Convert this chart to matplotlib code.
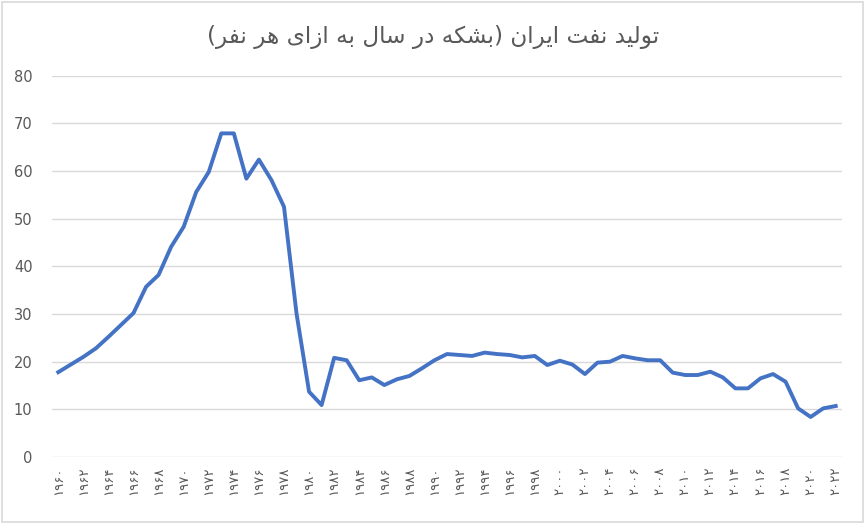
import numpy as np
import matplotlib.pyplot as plt
from matplotlib.patches import Rectangle


# data (barrels per person per year)
years = list(range(1960, 2023))
oil_per_capita = [
    17.8, 19.4, 21.0, 22.8, 25.2, 27.7, 30.2, 35.7, 38.2, 44.1,
    48.3, 55.6, 59.8, 67.9, 67.9, 58.4, 62.4, 58.1, 52.5, 30.1,
    13.7, 10.9, 20.8, 20.3, 16.1, 16.7, 15.1, 16.3, 17.0, 18.6,
    20.3, 21.6, 21.4, 21.2, 21.9, 21.6, 21.4, 20.9, 21.2, 19.3,
    20.2, 19.4, 17.4, 19.8, 20.0, 21.2, 20.7, 20.3, 20.3, 17.7,
    17.2, 17.2, 17.9, 16.7, 14.4, 14.4, 16.5, 17.4, 15.8, 10.2,
    8.4, 10.2, 10.7,
]
title_words = ['تولید', 'نفت', 'ایران', 'بشکه', 'در', 'سال', 'به', 'ازای', 'هر', 'نفر']


# matplotlib does no arabic shaping / bidi, so do a small one by hand
# forms: (isolated, final, initial, medial)
FORMS = {
    'ا': ('\uFE8D', '\uFE8E', None, None),
    'ب': ('\uFE8F', '\uFE90', '\uFE91', '\uFE92'),
    'ت': ('\uFE95', '\uFE96', '\uFE97', '\uFE98'),
    'د': ('\uFEA9', '\uFEAA', None, None),
    'ر': ('\uFEAD', '\uFEAE', None, None),
    'ز': ('\uFEAF', '\uFEB0', None, None),
    'س': ('\uFEB1', '\uFEB2', '\uFEB3', '\uFEB4'),
    'ش': ('\uFEB5', '\uFEB6', '\uFEB7', '\uFEB8'),
    'ف': ('\uFED1', '\uFED2', '\uFED3', '\uFED4'),
    'ل': ('\uFEDD', '\uFEDE', '\uFEDF', '\uFEE0'),
    'ن': ('\uFEE5', '\uFEE6', '\uFEE7', '\uFEE8'),
    'ه': ('\uFEE9', '\uFEEA', '\uFEEB', '\uFEEC'),
    'و': ('\uFEED', '\uFEEE', None, None),
    'ی': ('\uFBFC', '\uFBFD', '\uFBFE', '\uFBFF'),
    'ک': ('\uFB8E', '\uFB8F', '\uFB90', '\uFB91'),
}


def shape(word):
    out = []
    for i, ch in enumerate(word):
        f = FORMS[ch]
        prev_joins = i > 0 and FORMS[word[i - 1]][2] is not None
        next_joins = f[2] is not None and i < len(word) - 1
        if prev_joins and next_joins:
            out.append(f[3])
        elif prev_joins:
            out.append(f[1])
        elif next_joins:
            out.append(f[2])
        else:
            out.append(f[0])
    return ''.join(reversed(out))


fa_digits = str.maketrans('0123456789', '۰۱۲۳۴۵۶۷۸۹')
shaped = [shape(w) for w in title_words]
# visual (left-to-right) order of the rtl title
title = ('(' + ' '.join(reversed(shaped[3:])) + ') '
         + ' '.join(reversed(shaped[:3])))

plt.rcParams['font.family'] = ['DejaVu Sans']

fig = plt.figure(figsize=(8.66, 5.24), dpi=100)
ax = fig.add_axes([52 / 866, 67 / 524, 790 / 866, 381.3 / 524])

ax.plot(years, oil_per_capita, color='#4472C4', lw=2.8)

ax.set_xlim(1959.5, 2022.5)
ax.set_ylim(0, 80)
ax.set_yticks(np.arange(0, 81, 10))
ax.grid(axis='y', color='#D9D9D9', lw=1)
ax.set_axisbelow(True)
for s in ax.spines.values():
    s.set_visible(False)

xt = years[::2]
ax.set_xticks(xt)
ax.set_xticklabels([str(y).translate(fa_digits) for y in xt], rotation=90,
                   fontsize=9.5, color='#595959')
ax.tick_params(axis='both', length=0)
ax.tick_params(axis='x', pad=7)
ax.tick_params(axis='y', labelsize=10.5, labelcolor='#595959', pad=14)

fig.text(0.5, 0.93, title, ha='center', va='center', fontsize=16.7, color='#595959')

fig.patches.append(Rectangle((0.002, 0.003), 0.995, 0.993, transform=fig.transFigure,
                             fill=False, edgecolor='#D9D9D9', lw=1.2))

fig.savefig('out.png', dpi=100)
